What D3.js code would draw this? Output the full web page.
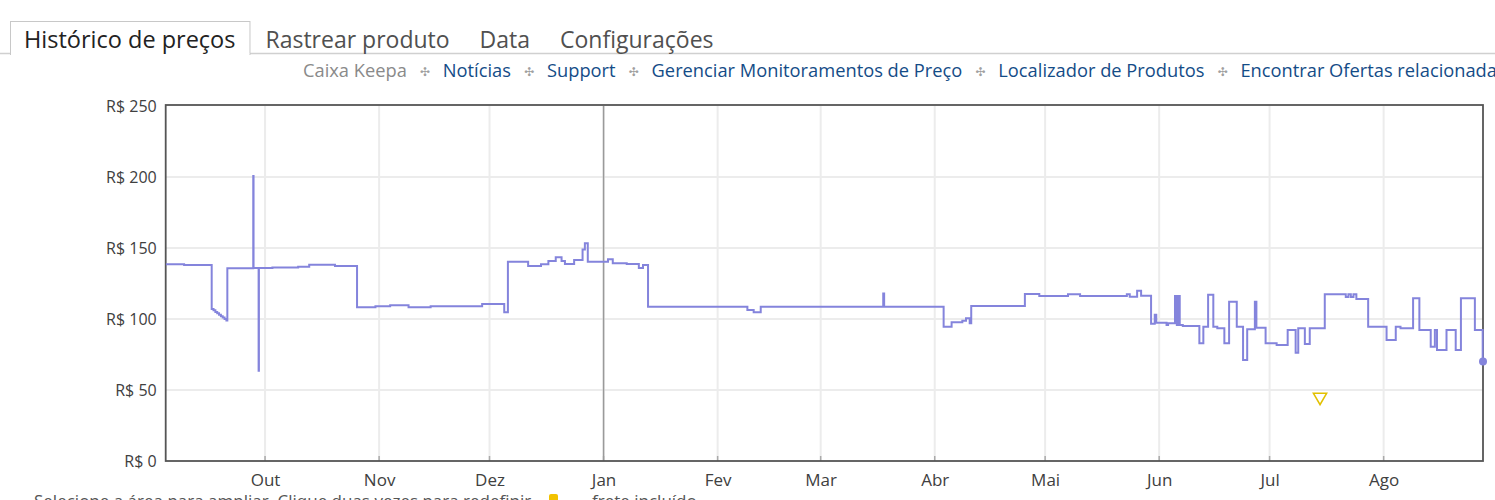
<!DOCTYPE html>
<html>
<head>
<meta charset="utf-8">
<script src="https://cdn.jsdelivr.net/npm/d3@7"></script>
<style>
    body { margin: 0; background: #fff; }
    svg { display: block; font-family: 'Open Sans', 'Noto Sans', sans-serif; }
</style>
</head>
<body>
<div class="diagram"></div>
<script>
// tabs + links above the chart
let tabLabels = ["Histórico de preços", "Rastrear produto", "Data", "Configurações"];
let linkLabels = ["Caixa Keepa", "Notícias", "Support", "Gerenciar Monitoramentos de Preço", "Localizador de Produtos", "Encontrar Ofertas relacionadas"];
let monthLabels = ["Jan", "Fev", "Mar", "Abr", "Mai", "Jun", "Jul", "Ago", "Set", "Out", "Nov", "Dez"];
let yTicks = [0, 50, 100, 150, 200, 250];
let xDomain = ["2022-09-04", "2023-08-28"];
let yearMark = "2023-01-01";

// price history (new)
let priceDates = [
    "2022-09-04", "2022-09-09", "2022-09-16 12:00", "2022-09-17 00:00", "2022-09-17 12:00", "2022-09-18 00:00", "2022-09-18 12:00", "2022-09-19 00:00", "2022-09-19 12:00", "2022-09-20 00:00", "2022-09-20 12:00", "2022-09-20 18:00",
    "2022-09-27 19:00", "2022-09-27 21:00", "2022-09-29 06:00", "2022-09-29 08:00",
    "2022-10-03", "2022-10-10", "2022-10-13", "2022-10-20", "2022-10-26", "2022-10-31", "2022-11-04", "2022-11-09", "2022-11-15", "2022-11-29",
    "2022-12-05", "2022-12-06", "2022-12-11 12:00", "2022-12-15", "2022-12-17", "2022-12-19", "2022-12-20 14:00", "2022-12-21 12:00", "2022-12-24", "2022-12-26 07:00", "2022-12-26 22:00", "2022-12-27 17:00",
    "2023-01-02 05:00", "2023-01-03 12:00", "2023-01-07 07:00", "2023-01-10 14:00", "2023-01-11 17:00", "2023-01-13 02:00",
    "2023-02-09 02:00", "2023-02-10 19:00", "2023-02-12 17:00", "2023-03-18 00:00", "2023-03-18 06:00",
    "2023-04-03 10:00", "2023-04-05 14:00", "2023-04-08 12:00", "2023-04-09 12:00", "2023-04-10 12:00", "2023-04-10 22:00",
    "2023-04-25 12:00", "2023-04-29 10:00", "2023-05-07 05:00", "2023-05-10 12:00", "2023-05-23 05:00", "2023-05-24", "2023-05-26", "2023-05-27 02:00", "2023-05-29 19:00", "2023-05-30 19:00", "2023-05-31 05:00",
    "2023-06-03", "2023-06-03 10:00", "2023-06-05 07:00", "2023-06-05 19:00", "2023-06-06 05:00", "2023-06-06 14:00", "2023-06-07 10:00", "2023-06-11 22:00", "2023-06-13", "2023-06-14 07:00", "2023-06-15 17:00", "2023-06-16 19:00", "2023-06-18 17:00", "2023-06-20", "2023-06-22 02:00", "2023-06-23 19:00", "2023-06-24 22:00", "2023-06-27", "2023-06-27 10:00", "2023-06-29 22:00",
    "2023-07-02 22:00", "2023-07-05 22:00", "2023-07-08 02:00", "2023-07-08 19:00", "2023-07-10 14:00", "2023-07-11 22:00", "2023-07-16", "2023-07-21 17:00", "2023-07-22 10:00", "2023-07-23 02:00", "2023-07-23 19:00", "2023-07-24 14:00", "2023-07-27 19:00",
    "2023-08-01 19:00", "2023-08-04 07:00", "2023-08-05 14:00", "2023-08-09", "2023-08-10 17:00", "2023-08-13 19:00", "2023-08-14 22:00", "2023-08-15 12:00", "2023-08-18 02:00", "2023-08-20 14:00", "2023-08-22", "2023-08-25 19:00", "2023-08-27 22:00", "2023-08-28"
];
let priceValues = [
    138.5, 138, 107, 106.2, 105, 104, 103, 102, 101, 100, 99, 135.7,
    200.7, 136, 63.6, 136,
    136.2, 136.8, 138.2, 137.3, 108.2, 109, 109.6, 108.2, 109, 110.5,
    104.7, 140.4, 137.3, 138.5, 140.8, 143.4, 140.8, 138.7, 141.5, 149, 153.3, 140.4,
    142, 139.2, 138.7, 136, 138, 108.7,
    106.3, 104.7, 108.7, 118, 108.7,
    94.6, 97.7, 98.8, 100.5, 97, 109.2,
    117.6, 116.2, 117.4, 116.2, 117.4, 115.7, 119.9, 116.4, 96.6, 103, 97.4,
    95.8, 97, 116.2, 95.8, 116.2, 95.8, 95.1, 82.9, 94.6, 117, 94.6, 93.4, 82.9, 112.2, 94.6, 71.1, 92.7, 112.2, 93.8, 82.9,
    81.7, 92.3, 76.3, 93.4, 82.4, 93.4, 117.4, 115.5, 117.4, 115.5, 117.4, 114, 94.6,
    85.2, 94.6, 93.4, 114.6, 92.3, 80.5, 92.3, 78.2, 92.3, 78.2, 114.6, 92.3, 70, 70
];

// yellow marker (shipping included)
let dealDates = ["2023-07-14 17:00"];
let dealValues = [45];

function parseDate(s) {
    return d3.timeParse("%Y-%m-%d %H:%M")(s) || d3.timeParse("%Y-%m-%d")(s);
}

let config = {
    width: 1495,
    height: 500,
    plot: { left: 165.7, right: 1483, top: 106, bottom: 461 },
    font: "'Open Sans', 'Noto Sans', sans-serif",
    lineColor: "#8484dc"
};

let svg = d3.select(".diagram").append("svg")
    .attr("width", config.width).attr("height", config.height);

// ---- tabs ----
let tabG = svg.append("g").attr("class", "tabs");
tabG.append("line").attr("x1", 0).attr("x2", config.width).attr("y1", 53.5).attr("y2", 53.5)
    .style("stroke", "#d0d0d0").style("stroke-width", 1.5);
let tabX = 24;
tabLabels.forEach(function (label, i) {
    let t = tabG.append("text").attr("x", tabX).attr("y", 48)
        .style("font-size", i == 0 ? "23.5px" : "23px")
        .style("fill", i == 0 ? "#222" : "#505050")
        .text(label);
    let w = t.node().getComputedTextLength();
    if (i == 0) {
        tabG.insert("rect", "text").attr("x", 10.5).attr("y", 21.5).attr("width", w + 28).attr("height", 33)
            .style("fill", "#fff").style("stroke", "#c8c8c8");
        tabG.insert("line", "text").attr("x1", 11).attr("x2", w + 38).attr("y1", 54.5).attr("y2", 54.5)
            .style("stroke", "#fff").style("stroke-width", 2);
    }
    tabX += w + 30;
});

// ---- links row ----
let linkG = svg.append("g").attr("class", "links");
let linkX = 303;
linkLabels.forEach(function (label, i) {
    let t = linkG.append("text").attr("x", linkX).attr("y", 77)
        .style("font-size", "18.3px")
        .style("fill", i == 0 ? "#8a8a8a" : "#144c87")
        .text(label);
    linkX += t.node().getComputedTextLength();
    if (i < linkLabels.length - 1) {
        linkG.append("text").attr("x", linkX + 18).attr("y", 76).attr("text-anchor", "middle")
            .style("font-family", "DejaVu Sans").style("font-size", "12px").style("fill", "#a0a0a0")
            .text("✣");
        linkX += 36;
    }
});

// ---- chart ----
let p = config.plot;
let data = priceDates.map(function (d, i) {
    return { date: parseDate(d), price: priceValues[i] };
});
let deals = dealDates.map(function (d, i) {
    return { date: parseDate(d), price: dealValues[i] };
});

let x = d3.scaleTime().domain(xDomain.map(parseDate)).range([p.left, p.right]);
let y = d3.scaleLinear().domain([0, 250]).range([p.bottom, p.top]);
let months = x.ticks(d3.timeMonth.every(1));

let chart = svg.append("g").attr("class", "chart");

// grid
chart.append("g").selectAll("line").data(months).enter().append("line")
    .attr("x1", d => x(d)).attr("x2", d => x(d)).attr("y1", p.top).attr("y2", p.bottom)
    .style("stroke", "#ececec").style("stroke-width", 2);
chart.append("g").selectAll("line").data(yTicks.slice(1, -1)).enter().append("line")
    .attr("x1", p.left).attr("x2", p.right).attr("y1", d => y(d)).attr("y2", d => y(d))
    .style("stroke", "#ececec").style("stroke-width", 2);

// small tick marks at the bottom
chart.append("g").selectAll("line").data(months).enter().append("line")
    .attr("x1", d => x(d)).attr("x2", d => x(d)).attr("y1", p.bottom - 5).attr("y2", p.bottom)
    .style("stroke", "#aaa").style("stroke-width", 1.5);

// year separator
chart.append("line")
    .attr("x1", x(parseDate(yearMark))).attr("x2", x(parseDate(yearMark)))
    .attr("y1", p.top).attr("y2", p.bottom)
    .style("stroke", "#9a9a9a").style("stroke-width", 1.5);

// frame
chart.append("rect").attr("x", p.left).attr("y", p.top - 1).attr("width", p.right - p.left).attr("height", p.bottom - p.top + 1)
    .style("fill", "none").style("stroke", "#555").style("stroke-width", 1.8);

// axes
let yAxis = d3.axisLeft(y).tickValues(yTicks).tickSize(0).tickPadding(9)
    .tickFormat(d => "R$ " + d);
let yG = chart.append("g").attr("transform", "translate(" + p.left + ",0)").call(yAxis);
yG.select(".domain").remove();
yG.selectAll("text").style("font-family", config.font).style("font-size", "16px").style("fill", "#404040");

let xAxis = d3.axisBottom(x).tickValues(months).tickSize(0).tickPadding(13)
    .tickFormat(d => monthLabels[d.getMonth()]);
let xG = chart.append("g").attr("transform", "translate(0," + p.bottom + ")").call(xAxis);
xG.select(".domain").remove();
xG.selectAll("text").style("font-family", config.font).style("font-size", "17px").style("fill", "#404040");

// price line
chart.append("clipPath").attr("id", "plotClip").append("rect")
    .attr("x", p.left).attr("y", p.top - 2).attr("width", p.right - p.left + 1).attr("height", p.bottom - p.top + 2);
let line = d3.line().curve(d3.curveStepAfter).x(d => x(d.date)).y(d => y(d.price));
chart.append("path").datum(data).attr("d", line)
    .attr("clip-path", "url(#plotClip)")
    .style("fill", "none").style("stroke", config.lineColor).style("stroke-width", 2)
    .style("stroke-linejoin", "miter");
let last = data[data.length - 1];
chart.append("circle").attr("cx", x(last.date)).attr("cy", y(last.price)).attr("r", 4)
    .style("fill", config.lineColor);

// yellow triangle marker
chart.selectAll(".deal").data(deals).enter().append("path").attr("class", "deal")
    .attr("d", d3.symbol().type(d3.symbolTriangle).size(75))
    .attr("transform", d => "translate(" + x(d.date) + "," + y(d.price) + ") rotate(180)")
    .style("fill", "none").style("stroke", "#e2c000").style("stroke-width", 1.6);

// bottom hint (cut off by the window, as in the page)
let hint = svg.append("g").attr("class", "hint");
hint.append("text").attr("x", 34).attr("y", 507).style("font-size", "17px").style("fill", "#555")
    .text("Selecione a área para ampliar. Clique duas vezes para redefinir.");
hint.append("rect").attr("x", 549).attr("y", 494).attr("width", 9).attr("height", 9).attr("rx", 2)
    .style("fill", "#f2c200");
hint.append("text").attr("x", 592).attr("y", 507).style("font-size", "17px").style("fill", "#555")
    .text("frete incluído");
</script>
</body>
</html>
